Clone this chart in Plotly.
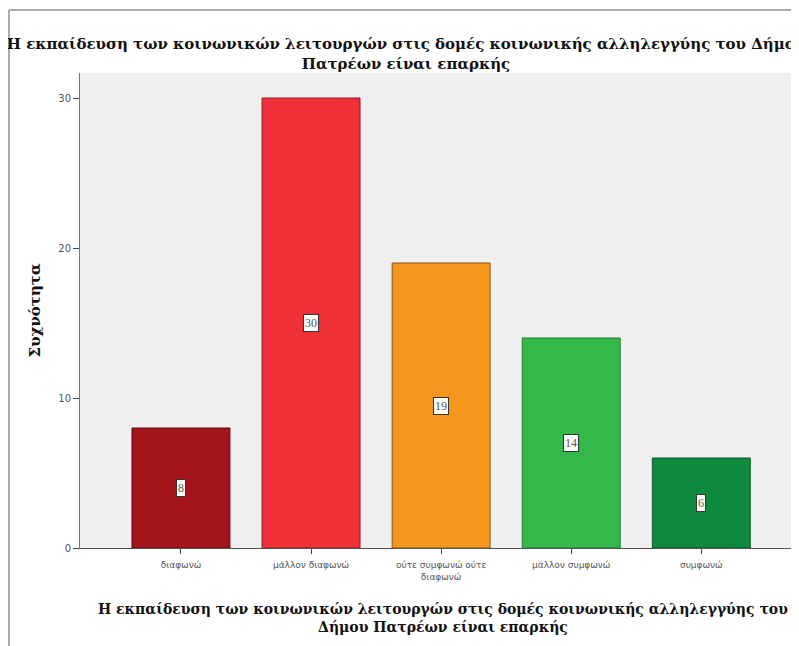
import plotly.graph_objects as go

categories = ["διαφωνώ", "μάλλον διαφωνώ", "ούτε συμφωνώ ούτε διαφωνώ", "μάλλον συμφωνώ", "συμφωνώ"]
tick_labels = ["διαφωνώ", "μάλλον διαφωνώ", "ούτε συμφωνώ ούτε<br>διαφωνώ", "μάλλον συμφωνώ", "συμφωνώ"]
counts = [8, 30, 19, 14, 6]
bar_colors = ["#a5141a", "#ef3038", "#f7961d", "#33b94a", "#0e8a3e"]
edge_colors = ["#5e0b0f", "#8e1c21", "#8a5510", "#1f7a30", "#0a5a28"]
y_ticks = [0, 10, 20, 30]

title_text = ("Η εκπαίδευση των κοινωνικών λειτουργών στις δομές κοινωνικής αλληλεγγύης του Δήμου"
              "<br>Πατρέων είναι επαρκής")
x_title_text = ("Η εκπαίδευση των κοινωνικών λειτουργών στις δομές κοινωνικής αλληλεγγύης του"
                "<br>Δήμου Πατρέων είναι επαρκής")
y_title_text = "Συχνότητα"

OFF = 8  # page body margin
W, H = 799 - OFF, 646 - OFF
L, R, T = 80 - OFF, 0, 73 - OFF
B = H - (548 - OFF)
pw, ph = W - L - R, H - T - B

def px_x(x):
    return (x - OFF - L) / pw

def px_y(y):
    return (H - B - (y - OFF)) / ph

serif = "DejaVu Serif, serif"
sans = "DejaVu Sans, sans-serif"

fig = go.Figure()
fig.add_trace(go.Bar(
    x=categories, y=counts,
    marker=dict(color=bar_colors, line=dict(color=edge_colors, width=1)),
    width=0.753,
    hoverinfo="skip",
))

annotations = []
for c, v in zip(categories, counts):
    annotations.append(dict(
        x=c, y=v / 2, xref="x", yref="y", text=str(v), showarrow=False,
        font=dict(family="Liberation Serif, serif", size=12, color="#555"),
        bgcolor="white", bordercolor="#333", borderwidth=1, borderpad=1,
    ))

annotations.append(dict(
    x=px_x(443), y=px_y(618), xref="paper", yref="paper", text=x_title_text,
    showarrow=False, xanchor="center", yanchor="middle",
    font=dict(family=serif, size=14, color="#111", weight="bold"),
))

fig.update_layout(
    width=W, height=H,
    margin=dict(l=L, r=R, t=T, b=B, autoexpand=False),
    paper_bgcolor="white",
    plot_bgcolor="#efefef",
    showlegend=False,
    title=dict(text=title_text, x=(406 - OFF) / W, xanchor="center", xref="container",
               y=1 - (49 - OFF) / H, yanchor="middle", yref="container",
               font=dict(family=serif, size=15, color="#111", weight="bold")),
    annotations=annotations,
    shapes=[
        dict(type="line", xref="paper", yref="paper", x0=px_x(9), x1=px_x(9),
             y0=px_y(10), y1=px_y(660), line=dict(color="#aaaaaa", width=2)),
        dict(type="line", xref="paper", yref="paper", x0=px_x(9), x1=px_x(820),
             y0=px_y(10), y1=px_y(10), line=dict(color="#aaaaaa", width=2)),
    ],
)

fig.update_xaxes(
    type="category", range=[-0.776, 4.751],
    tickmode="array", tickvals=categories, ticktext=tick_labels,
    ticks="outside", ticklen=5, tickcolor="#444",
    ticklabelstandoff=3,
    showline=True, linecolor="#555", linewidth=1,
    showgrid=False, zeroline=False,
    tickfont=dict(family=sans, size=9, color="#555"),
)
fig.update_yaxes(
    range=[0, (548 - 73) / 15], tickmode="array", tickvals=y_ticks,
    ticks="outside", ticklen=6, tickcolor="#444",
    showline=True, linecolor="#777", linewidth=1,
    showgrid=False, zeroline=False,
    tickfont=dict(family=sans, size=10, color="#555"),
    title=dict(text=y_title_text, standoff=14,
               font=dict(family=serif, size=15, color="#111", weight="bold")),
)

fig.write_html("out.html")
